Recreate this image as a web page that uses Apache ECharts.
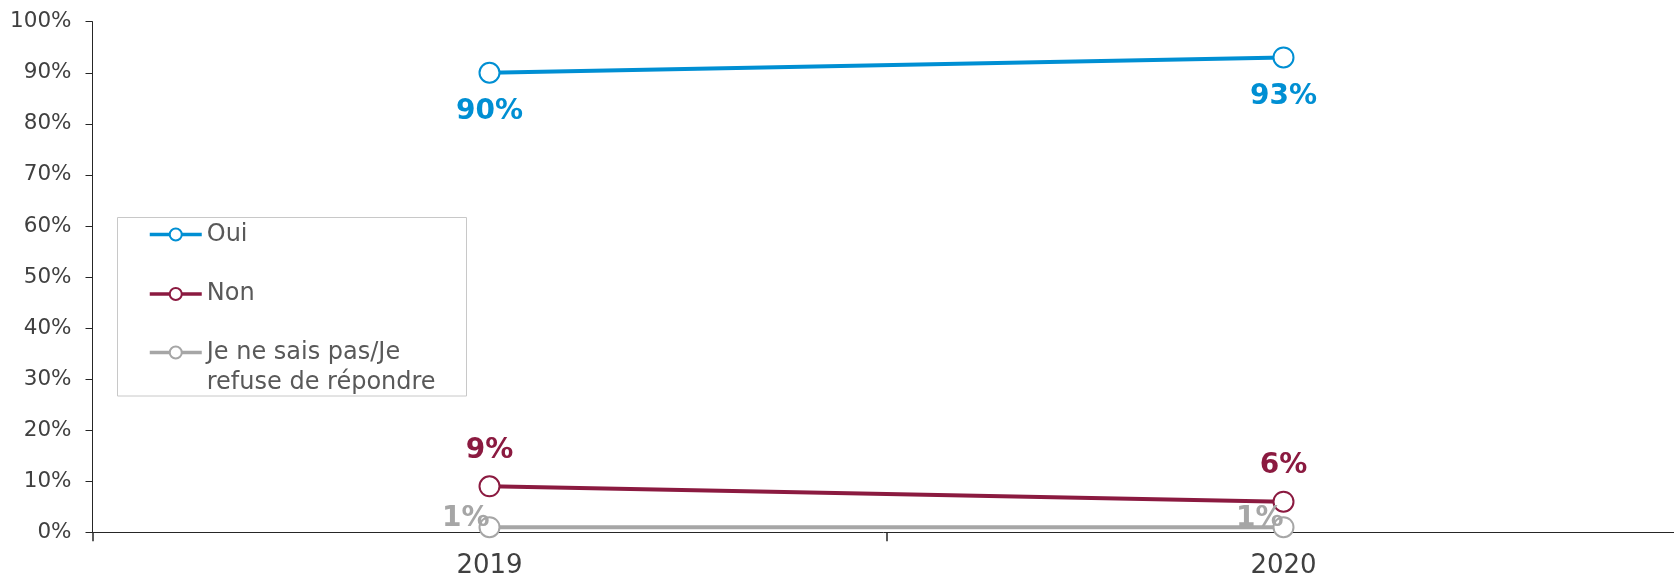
<!DOCTYPE html>
<html>
<head>
<meta charset="utf-8">
<script src="https://cdn.jsdelivr.net/npm/echarts@6/dist/echarts.min.js"></script>
<style>
html,body{margin:0;padding:0;background:#fff;}
#chart{width:1674px;height:581px;}
</style>
</head>
<body>
<div id="chart"></div>
<script>
const categories = ['2019', '2020'];
const seriesNames = ['Oui', 'Non', 'Je ne sais pas/Je refuse de répondre'];
const ouiValues = [90, 93];
const nonValues = [9, 6];
const nspValues = [1, 1];
const colors = ['#008FD3', '#8B1A40', '#A6A6A6'];

const FONT = 'DejaVu Sans, Verdana, sans-serif';
const chart = echarts.init(document.getElementById('chart'), null, {renderer: 'canvas'});

function lineSeries(name, data, color, labelOpt) {
  return {
    name: name,
    type: 'line',
    data: data,
    symbol: 'emptyCircle',
    symbolSize: 20,
    color: color,
    lineStyle: {color: color, width: 4},
    itemStyle: {color: color, borderColor: color, borderWidth: 2.5},
    label: Object.assign({
      show: true,
      formatter: '{c}%',
      color: color,
      fontFamily: FONT,
      fontWeight: 'bold',
      fontSize: 28
    }, labelOpt),
    emphasis: {disabled: true},
    animation: false,
    z: 3
  };
}

const legendBase = {
  orient: 'vertical',
  left: 148,
  padding: 0,
  itemWidth: 52,
  itemHeight: 15,
  selectedMode: false,
  lineStyle: {width: 3.5},
  textStyle: {fontFamily: FONT, fontSize: 24, color: '#595959', lineHeight: 30}
};

const option = {
  backgroundColor: '#fff',
  animation: false,
  grid: {left: 92.5, top: 21.7, width: 1588, height: 510.6, containLabel: false, outerBoundsMode: 'none'},
  legend: [
    Object.assign({}, legendBase, {data: [seriesNames[0]], top: 219.5}),
    Object.assign({}, legendBase, {data: [seriesNames[1]], top: 279}),
    Object.assign({}, legendBase, {
      data: [seriesNames[2]], top: 307.5,
      formatter: function (n) { return '\n' + n.replace('/Je ', '/Je\n'); }
    })
  ],
  graphic: [{
    type: 'rect',
    shape: {x: 117.5, y: 217.5, width: 349, height: 178.5},
    style: {fill: 'none', stroke: '#C8C8C8', lineWidth: 1},
    silent: true,
    z: 0
  }],
  xAxis: {
    type: 'category',
    data: categories,
    boundaryGap: true,
    axisLine: {show: true, lineStyle: {color: '#262626', width: 1}},
    axisTick: {show: true, length: 9, lineStyle: {color: '#262626', width: 1.5}},
    axisLabel: {fontFamily: FONT, fontSize: 26, color: '#404040', margin: 21},
    splitLine: {show: false}
  },
  yAxis: {
    type: 'value',
    min: 0,
    max: 100,
    interval: 10,
    axisLine: {show: true, lineStyle: {color: '#262626', width: 1}},
    axisTick: {show: true, length: 7, lineStyle: {color: '#262626'}},
    axisLabel: {fontFamily: FONT, fontSize: 21.5, color: '#404040', margin: 21, formatter: '{value}%'},
    splitLine: {show: false}
  },
  series: [
    lineSeries(seriesNames[0], ouiValues, colors[0], {position: 'bottom', distance: 14}),
    lineSeries(seriesNames[1], nonValues, colors[1], {position: 'top', distance: 11}),
    lineSeries(seriesNames[2], nspValues, colors[2], {position: 'left', distance: 0, offset: [11, -8]})
  ]
};
chart.setOption(option);
</script>
</body>
</html>
